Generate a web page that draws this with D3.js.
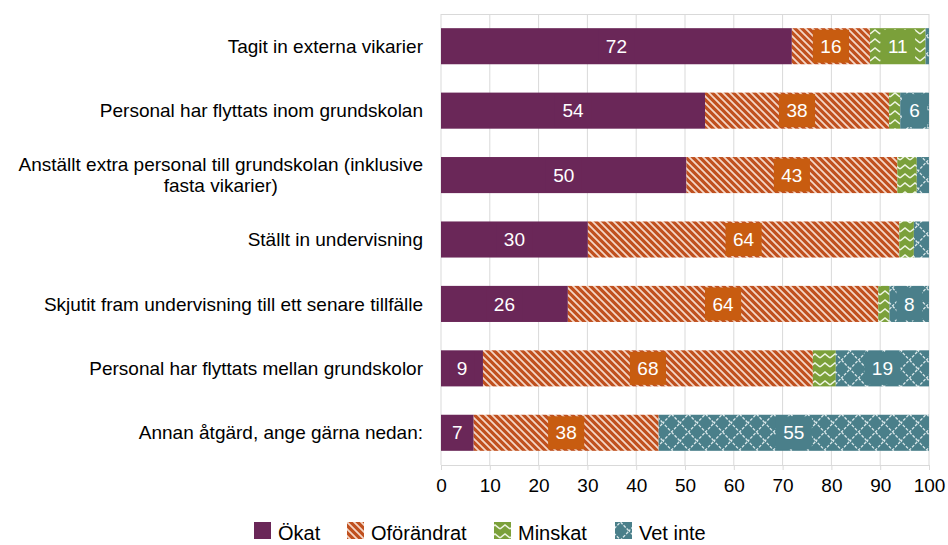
<!DOCTYPE html>
<html>
<head>
<meta charset="utf-8">
<script src="https://cdn.jsdelivr.net/npm/d3@7"></script>
<style>
  body { margin: 0; background: #fff; }
  text { font-family: "Liberation Sans", Arial, sans-serif; }
</style>
</head>
<body>
<div id="chart"></div>
<script>
// Kategorier (uppifrån och ned)
const categories = [
  'Tagit in externa vikarier',
  'Personal har flyttats inom grundskolan',
  'Anställt extra personal till grundskolan (inklusive|fasta vikarier)',
  'Ställt in undervisning',
  'Skjutit fram undervisning till ett senare tillfälle',
  'Personal har flyttats mellan grundskolor',
  'Annan åtgärd, ange gärna nedan:'
];

// Serievärden i procent
const okat       = [71.9, 54.1, 50.3, 30.1, 26.0, 8.6, 6.7];
const oforandrat = [16.0, 37.7, 43.2, 63.8, 63.6, 67.6, 37.9];
const minskat    = [11.4, 2.3, 4.0, 3.0, 2.3, 4.7, 0];
const vetInte    = [0.7, 5.9, 2.5, 3.1, 8.1, 19.1, 55.4];

const seriesNames = ['Ökat', 'Oförändrat', 'Minskat', 'Vet inte'];
const xTicks = [0, 10, 20, 30, 40, 50, 60, 70, 80, 90, 100];

const width = 948, height = 545;
const margin = { top: 14, right: 19, bottom: 80, left: 441 };

const colors = {
  'Ökat': '#6a2758',
  'Oförändrat': '#c0501e',
  'Minskat': '#7ba03a',
  'Vet inte': '#4a7f8a'
};
const labelBox = {
  'Ökat': '#6a2758',
  'Oförändrat': '#c85c10',
  'Minskat': '#7ba03a',
  'Vet inte': '#4a7f8a'
};
const fills = {
  'Ökat': '#6a2758',
  'Oförändrat': 'url(#pOf)',
  'Minskat': 'url(#pMi)',
  'Vet inte': 'url(#pVi)'
};

const svg = d3.select('#chart').append('svg')
  .attr('width', width)
  .attr('height', height);

// Mönster
const defs = svg.append('defs');
let p = defs.append('pattern').attr('id', 'pOf')
  .attr('patternUnits', 'userSpaceOnUse').attr('width', 7).attr('height', 7);
p.append('rect').attr('width', 7).attr('height', 7).attr('fill', colors['Oförändrat']);
p.append('path').attr('d', 'M-1,-1 L8,8 M-1,6 L1,8 M6,-1 L8,1')
  .attr('stroke', '#f4d6c6').attr('stroke-width', 1.8);

p = defs.append('pattern').attr('id', 'pMi')
  .attr('patternUnits', 'userSpaceOnUse').attr('width', 10).attr('height', 9);
p.append('rect').attr('width', 10).attr('height', 9).attr('fill', colors['Minskat']);
p.append('path').attr('d', 'M0,7 L5,3 L10,7')
  .attr('fill', 'none').attr('stroke', '#eef4e2').attr('stroke-width', 1.6);

p = defs.append('pattern').attr('id', 'pVi')
  .attr('patternUnits', 'userSpaceOnUse').attr('width', 17).attr('height', 18);
p.append('rect').attr('width', 17).attr('height', 18).attr('fill', colors['Vet inte']);
p.append('path').attr('d', 'M8.5,0 L17,9 L8.5,18 L0,9 Z')
  .attr('fill', 'none').attr('stroke', '#dbe8ea').attr('stroke-width', 1.3)
  .attr('stroke-dasharray', '3,1.5');

// Skalor
const x = d3.scaleLinear()
  .domain([0, 100])
  .range([margin.left, width - margin.right]);

const y = d3.scaleBand()
  .domain(d3.range(categories.length))
  .range([margin.top, height - margin.bottom])
  .paddingInner(0.44)
  .paddingOuter(0.22);

// Rutnät
svg.append('g').selectAll('line')
  .data(xTicks)
  .enter().append('line')
  .attr('x1', d => x(d)).attr('x2', d => x(d))
  .attr('y1', margin.top).attr('y2', height - margin.bottom)
  .attr('stroke', '#d9d9d9').attr('stroke-width', 1);
svg.append('line')
  .attr('x1', x(0)).attr('x2', x(100))
  .attr('y1', margin.top + 0.5).attr('y2', margin.top + 0.5)
  .attr('stroke', '#d9d9d9');

// Staplade data
const table = categories.map((c, i) => ({
  'Ökat': okat[i], 'Oförändrat': oforandrat[i], 'Minskat': minskat[i], 'Vet inte': vetInte[i], idx: i
}));
const stacked = d3.stack().keys(seriesNames)(table);

const layers = svg.append('g').selectAll('g')
  .data(stacked)
  .enter().append('g');

layers.selectAll('rect')
  .data(d => d.map(v => ({ key: d.key, v0: v[0], v1: v[1], i: v.data.idx })))
  .enter().append('rect')
  .attr('x', d => x(d.v0))
  .attr('y', d => y(d.i))
  .attr('width', d => Math.max(0, x(d.v1) - x(d.v0)))
  .attr('height', y.bandwidth())
  .attr('fill', d => fills[d.key]);

// Dataetiketter
const labels = svg.append('g');
stacked.forEach(layer => {
  layer.forEach(v => {
    const val = v[1] - v[0];
    if (val < 5.5) return;
    const cx = x((v[0] + v[1]) / 2);
    const cy = y(v.data.idx) + y.bandwidth() / 2;
    const g = labels.append('g');
    const t = g.append('text')
      .attr('x', cx).attr('y', cy)
      .attr('dy', '0.35em')
      .attr('text-anchor', 'middle')
      .attr('font-size', 19)
      .attr('fill', '#fff')
      .text(Math.round(val));
    const w = t.node().getComputedTextLength();
    g.insert('rect', 'text')
      .attr('x', cx - w / 2 - 7.5)
      .attr('y', cy - 16.5)
      .attr('width', w + 15)
      .attr('height', 33)
      .attr('fill', labelBox[layer.key]);
  });
});

// Kategorietiketter
const catG = svg.append('g');
categories.forEach((c, i) => {
  const lines = c.split('|');
  const cy = y(i) + y.bandwidth() / 2;
  const t1 = catG.append('text')
    .attr('x', 423)
    .attr('y', cy - (lines.length - 1) * 10.5)
    .attr('dy', '0.35em')
    .attr('text-anchor', 'end')
    .attr('font-size', 19)
    .attr('fill', '#000')
    .text(lines[0]);
  if (lines.length > 1) {
    const w = t1.node().getComputedTextLength();
    catG.append('text')
      .attr('x', 423 - w / 2)
      .attr('y', cy + 10.5)
      .attr('dy', '0.35em')
      .attr('text-anchor', 'middle')
      .attr('font-size', 19)
      .attr('fill', '#000')
      .text(lines[1]);
  }
});

// X-axel
const xAxis = svg.append('g')
  .attr('transform', `translate(0, ${height - margin.bottom})`)
  .call(d3.axisBottom(x).tickValues(xTicks).tickSize(5).tickSizeOuter(0).tickPadding(9));
xAxis.select('.domain').attr('stroke', '#d9d9d9');
xAxis.selectAll('.tick line').attr('stroke', '#d9d9d9');
xAxis.selectAll('.tick text')
  .attr('font-size', 19)
  .attr('fill', '#000')
  .style('font-family', '"Liberation Sans", Arial, sans-serif');

// Förklaring
const legendX = [254, 347, 494, 615];
const legend = svg.append('g');
seriesNames.forEach((s, i) => {
  legend.append('rect')
    .attr('x', legendX[i]).attr('y', 522)
    .attr('width', 17).attr('height', 17)
    .attr('fill', fills[s]);
  legend.append('text')
    .attr('x', legendX[i] + 24).attr('y', 540)
    .attr('font-size', 20)
    .attr('fill', '#000')
    .text(s);
});
</script>
</body>
</html>
